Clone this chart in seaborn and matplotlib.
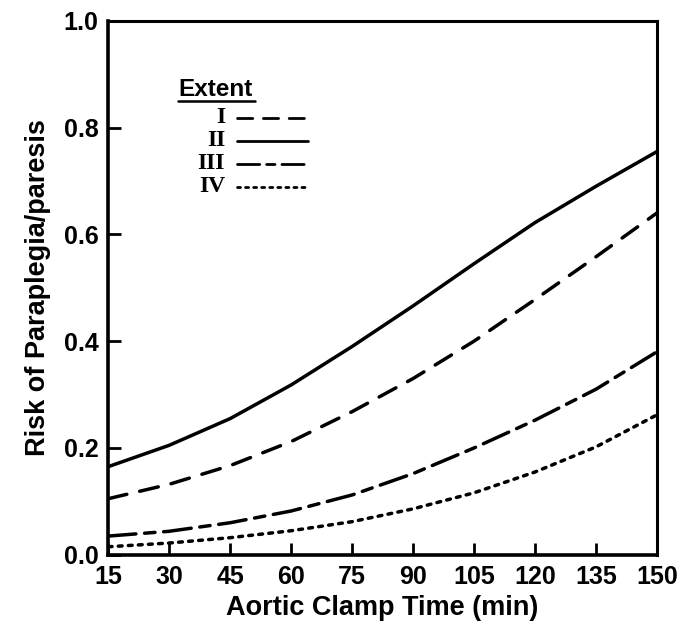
import numpy as np
import pandas as pd
import matplotlib
matplotlib.use('Agg')
import matplotlib.pyplot as plt
import seaborn as sns

# clamp time (min) and read-off risk values for each extent
clamp_time = [15, 30, 45, 60, 75, 90, 105, 120, 135, 150]
risk_I = [0.105, 0.132, 0.167, 0.212, 0.268, 0.330, 0.400, 0.478, 0.558, 0.640]
risk_II = [0.165, 0.205, 0.255, 0.318, 0.390, 0.466, 0.545, 0.622, 0.690, 0.755]
risk_III = [0.035, 0.044, 0.060, 0.082, 0.112, 0.152, 0.200, 0.252, 0.310, 0.380]
risk_IV = [0.015, 0.022, 0.032, 0.045, 0.062, 0.086, 0.116, 0.155, 0.202, 0.262]
extents = ['I', 'II', 'III', 'IV']
x_ticks = [15, 30, 45, 60, 75, 90, 105, 120, 135, 150]
y_ticks = [0.0, 0.2, 0.4, 0.6, 0.8, 1.0]

sns.set_style('ticks')
plt.rcParams['font.family'] = ['Liberation Sans', 'DejaVu Sans']
plt.rcParams['text.color'] = 'black'
plt.rcParams['axes.labelcolor'] = 'black'
plt.rcParams['xtick.color'] = 'black'
plt.rcParams['ytick.color'] = 'black'
plt.rcParams['axes.edgecolor'] = 'black'

df = pd.DataFrame({'time': clamp_time * 4,
                   'risk': risk_I + risk_II + risk_III + risk_IV,
                   'extent': [e for e in extents for _ in clamp_time]})

styles = {
    'I': (0, (5.5, 3.8)),
    'II': '-',
    'III': (0, (8, 2.5, 3, 2.5)),
    'IV': (0, (1.1, 1.8)),
}

fig = plt.figure(figsize=(6.85, 6.29), dpi=100)
ax = fig.add_axes([0.158, 0.118, 0.801, 0.849])

for ext in extents:
    sub = df[df['extent'] == ext]
    sns.lineplot(data=sub, x='time', y='risk', ax=ax, color='black',
                 linewidth=2.5, legend=False)
    ax.lines[-1].set_linestyle(styles[ext])
    ax.lines[-1].set_dash_capstyle('round')

ax.set_xlim(15, 150)
ax.set_ylim(0, 1.0)
ax.set_xticks(x_ticks)
ax.set_yticks(y_ticks)
ax.set_yticklabels([f'{v:.1f}' for v in y_ticks])
ax.tick_params(direction='in', length=9, width=2, labelsize=18, colors='black')
ax.tick_params(axis='y', pad=7)
ax.tick_params(axis='x', pad=7)
for lab in ax.get_xticklabels() + ax.get_yticklabels():
    lab.set_fontweight('bold')

for side in ['left', 'bottom']:
    ax.spines[side].set_linewidth(2.6)
for side in ['top', 'right']:
    ax.spines[side].set_linewidth(2.2)

ax.set_xlabel('Aortic Clamp Time (min)', fontsize=19.5, fontweight='bold', labelpad=5)
ax.set_ylabel('Risk of Paraplegia/paresis', fontsize=19.5, fontweight='bold', labelpad=9)

# hand-built legend in the upper left corner
tr = ax.transAxes
ax.text(0.128, 0.872, 'Extent', transform=tr, fontsize=17.5, fontweight='bold',
        ha='left', va='center')
ax.plot([0.128, 0.268], [0.850, 0.850], transform=tr, color='black', lw=1.8)
row_y = [0.818, 0.775, 0.732, 0.689]
for ext, yy in zip(extents, row_y):
    ax.text(0.213, yy, ext, transform=tr, fontsize=17, fontweight='bold',
            family='Liberation Serif', ha='right', va='center')
    ax.plot([0.235, 0.364], [yy, yy], transform=tr, color='black', lw=2.0,
            linestyle=styles[ext], dash_capstyle='round')

fig.savefig('out.png', dpi=100)
